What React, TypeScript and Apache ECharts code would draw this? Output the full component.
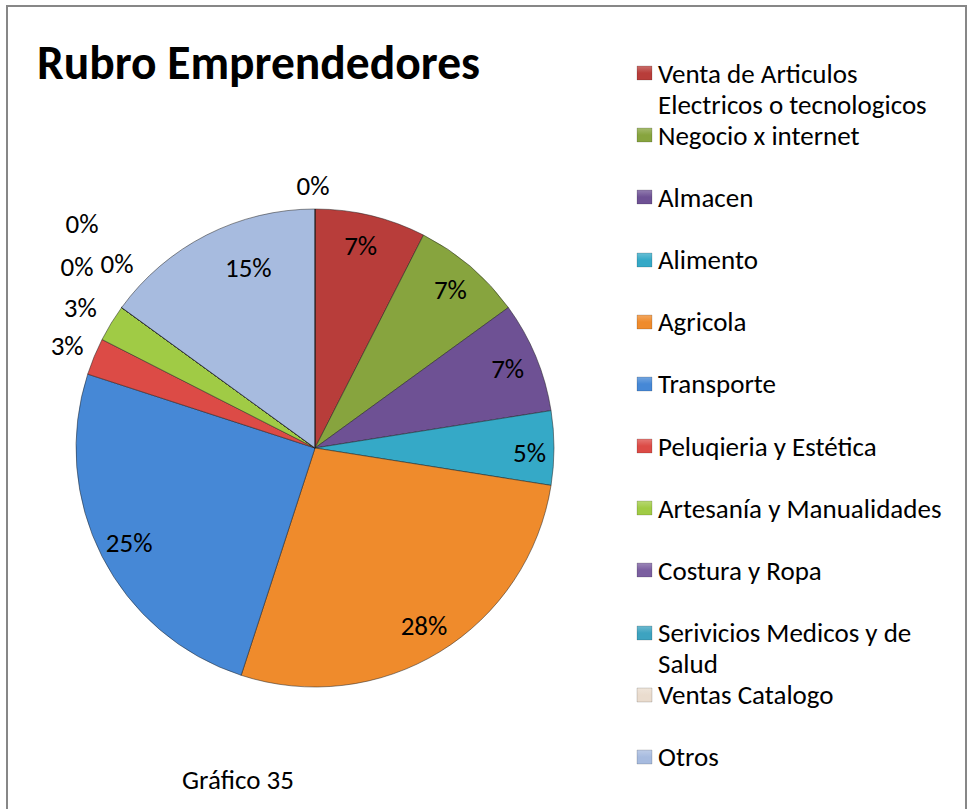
import React, { useEffect, useRef } from "react";
import * as echarts from "echarts";

// ---- data (counts; labels are shares of the total) ----
const categories = [
  "Venta de Articulos Electricos o tecnologicos",
  "Negocio x internet",
  "Almacen",
  "Alimento",
  "Agricola",
  "Transporte",
  "Peluqieria y Estética",
  "Artesanía y Manualidades",
  "Costura y Ropa",
  "Serivicios Medicos y de Salud",
  "Ventas Catalogo",
  "Otros",
  "", // category beyond the visible legend (shows as the top 0%)
];
const values = [3, 3, 3, 2, 11, 10, 1, 1, 0, 0, 0, 6, 0];
const legendLabels = [
  "Venta de Articulos\nElectricos o tecnologicos",
  "Negocio x internet",
  "Almacen",
  "Alimento",
  "Agricola",
  "Transporte",
  "Peluqieria y Estética",
  "Artesanía y Manualidades",
  "Costura y Ropa",
  "Serivicios Medicos y de\nSalud",
  "Ventas Catalogo",
  "Otros",
];
const colors = [
  "#B83D3A", "#87A43E", "#6E5194", "#35A9C7", "#EF8B2C", "#4688D6",
  "#DC4B46", "#A0CB45", "#7B5FA0", "#3DA3C0", "#EADCCE", "#A7BBDF", "#C8C8C8",
];
const titleText = "Rubro Emprendedores";
const captionText = "Gráfico 35";

// ---- layout / style ----
const FONT = "Calibri, Carlito, Lato, sans-serif";
const FS = 27;
const CX = 315, CY = 448, R = 239;
const LEG_ICON_X = 637, LEG_TEXT_X = 658, LEG_Y0 = 73, LEG_STEP = 62.18, LINE_H = 31;
const outerNudge: Record<number, [number, number]> = {
  7: [-6, 0],
  8: [-21, -24],
  9: [19, -27],
  10: [-16, -67],
  12: [-2, 6],
};
const innerNudge: Record<number, [number, number]> = {
  0: [-3, 0],
  3: [6, 4],
  11: [28, 5],
};

const total = values.reduce((a, b) => a + b, 0);
const pctText = (v: number) =>
  Math.round(parseFloat((v / total).toFixed(2)) * 100) + "%";

function lighten(hex: string, k: number) {
  const n = parseInt(hex.slice(1), 16);
  const ch = [(n >> 16) & 255, (n >> 8) & 255, n & 255].map((c) =>
    Math.round(c + (255 - c) * k)
  );
  return `rgb(${ch[0]},${ch[1]},${ch[2]})`;
}

export default function App() {
  const ref = useRef<HTMLDivElement>(null);
  useEffect(() => {
    if (!ref.current) return;
    const chart = echarts.init(ref.current, undefined, { renderer: "svg" });
    const labelStyle = { color: "#000", fontSize: FS, fontFamily: FONT };
    const base = categories.map((name, i) => ({ name, value: values[i] }));

    const legendGraphics: any[] = [];
    legendLabels.forEach((lab, i) => {
      const y = LEG_Y0 + LEG_STEP * i;
      legendGraphics.push({
        type: "rect",
        shape: { x: LEG_ICON_X, y: Math.round(y - 7), width: 15, height: 14 },
        style: {
          fill: {
            type: "linear", x: 0, y: 0, x2: 0, y2: 1,
            colorStops: [
              { offset: 0, color: lighten(colors[i], 0.25) },
              { offset: 0.5, color: colors[i] },
              { offset: 1, color: colors[i] },
            ],
          },
          stroke: "rgba(0,0,0,0.25)",
          lineWidth: 0.6,
        },
        silent: true,
      });
      legendGraphics.push({
        type: "text",
        x: LEG_TEXT_X,
        y: y - LINE_H / 2,
        style: {
          text: lab,
          fill: "#000",
          font: `${FS}px ${FONT}`,
          lineHeight: LINE_H,
          verticalAlign: "top",
        },
        silent: true,
      });
    });

    const option: any = {
      animation: false,
      backgroundColor: "#fff",
      title: {
        text: titleText,
        left: 37,
        top: 39,
        padding: 0,
        textStyle: { fontSize: 47.5, fontWeight: "bold", fontFamily: FONT, color: "#000" },
      },
      graphic: [
        {
          type: "rect",
          shape: { x: 7, y: 6, width: 959, height: 900 },
          style: { fill: "none", stroke: "#878787", lineWidth: 2 },
          silent: true,
        },
        ...legendGraphics,
        {
          type: "text",
          x: 182,
          y: 766,
          style: { text: captionText, fill: "#000", font: `${FS}px ${FONT}` },
          silent: true,
        },
      ],
      series: [
        {
          type: "pie",
          center: [CX, CY],
          radius: R,
          startAngle: 90,
          clockwise: true,
          silent: true,
          data: base.map((d, i) => ({ ...d, itemStyle: { color: colors[i] } })),
          itemStyle: { borderColor: "rgba(30,30,30,0.5)", borderWidth: 1 },
          label: { show: false },
          labelLine: { show: false },
          emphasis: { disabled: true },
        },
        {
          type: "pie",
          center: [CX, CY],
          radius: [R * 0.72, R],
          startAngle: 90,
          silent: true,
          data: base.map((d) => ({ ...d, label: { show: d.value / total >= 0.05 } })),
          itemStyle: { color: "rgba(0,0,0,0)" },
          label: {
            position: "inside",
            formatter: (p: any) => pctText(p.value),
            ...labelStyle,
          },
          labelLine: { show: false },
          labelLayout: (p: any) => {
            const n = innerNudge[p.dataIndex];
            return n ? { dx: n[0], dy: n[1] } : {};
          },
          emphasis: { disabled: true },
        },
        {
          type: "pie",
          center: [CX, CY],
          radius: [R, R * 1.22],
          startAngle: 90,
          silent: true,
          avoidLabelOverlap: false,
          data: base.map((d) => ({ ...d, label: { show: d.value / total < 0.05 } })),
          itemStyle: { color: "rgba(0,0,0,0)" },
          label: {
            position: "inside",
            formatter: (p: any) => pctText(p.value),
            ...labelStyle,
          },
          labelLine: { show: false },
          labelLayout: (p: any) => {
            const n = outerNudge[p.dataIndex];
            return n ? { dx: n[0], dy: n[1] } : {};
          },
          emphasis: { disabled: true },
        },
      ],
    };
    chart.setOption(option);
    return () => chart.dispose();
  }, []);
  return (
    <div
      ref={ref}
      style={{ position: "absolute", left: 0, top: 0, width: 969, height: 809 }}
    />
  );
}
